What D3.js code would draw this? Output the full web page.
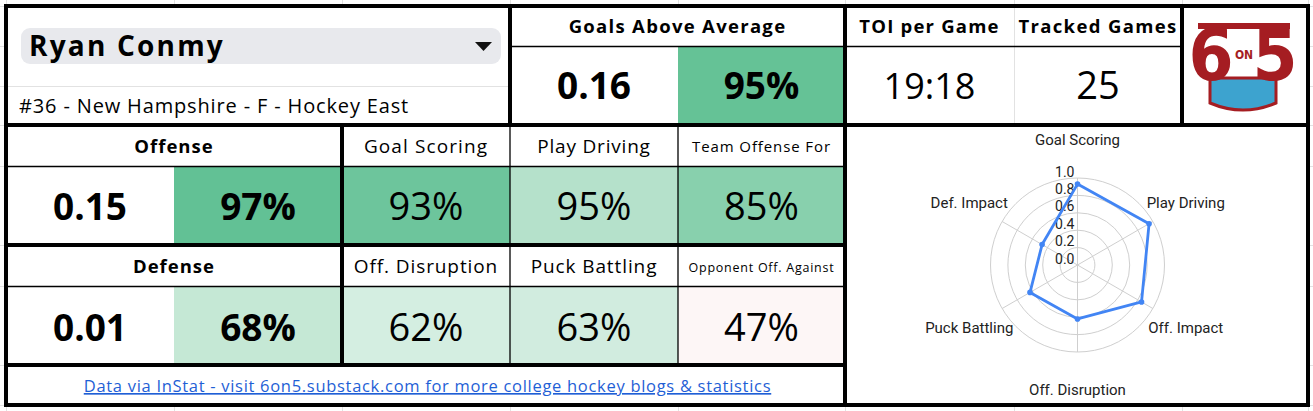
<!DOCTYPE html>
<html>
<head>
<meta charset="utf-8">
<script src="https://cdn.jsdelivr.net/npm/d3@7"></script>
<style>
  html, body { margin: 0; padding: 0; background: #fff; }
  svg { display: block; }
  .sheet { font-family: 'Open Sans', 'Noto Sans', sans-serif; fill: #000; }
  .radar text { font-family: Roboto, sans-serif; }
</style>
</head>
<body>
<div id="card"></div>
<script>
// ---- data ----
const PLAYER = 'Ryan Conmy';
const PLAYER_INFO = '#36 - New Hampshire - F - Hockey East';
const GAA = { label: 'Goals Above Average', value: '0.16', pct: 95 };
const TOI = { label: 'TOI per Game', value: '19:18' };
const GAMES = { label: 'Tracked Games', value: '25' };

const GROUPS = ['Offense', 'Defense'];
const GROUP_VALUES = ['0.15', '0.01'];
const GROUP_PCT = [97, 68];

const OFF_METRICS = ['Goal Scoring', 'Play Driving', 'Team Offense For'];
const OFF_PCT = [93, 95, 85];
const DEF_METRICS = ['Off. Disruption', 'Puck Battling', 'Opponent Off. Against'];
const DEF_PCT = [62, 63, 47];

const RADAR_AXES = ['Goal Scoring', 'Play Driving', 'Off. Impact', 'Off. Disruption', 'Puck Battling', 'Def. Impact'];
const RADAR_VALUES = [0.93, 0.95, 0.85, 0.62, 0.63, 0.47];
const RADAR_TICKS = [0, 0.2, 0.4, 0.6, 0.8, 1.0];

const FOOTER = 'Data via InStat - visit 6on5.substack.com for more college hockey blogs & statistics';

// ---- styles (cell fills as shown on the sheet) ----
const GAA_FILL = '#65c296';
const GROUP_FILL = ['#62c195', '#c5e8d5'];
const OFF_FILL = ['#6dc59c', '#b5e1cb', '#88d0ad'];
const DEF_FILL = ['#d4eee1', '#d1ecdf', '#fdf6f6'];
const OFF_HEAD = [[19, 1.1], [19, 0.8], [15, 0.9]];   // [font-size, letter-spacing]
const DEF_HEAD = [[19, 0.9], [19, 0.9], [12.5, 0.75]];

const W = 1313, H = 411;
const svg = d3.select('#card').append('svg').attr('width', W).attr('height', H).attr('class', 'sheet');

// grid geometry (sheet columns / rows)
const X = [6, 174, 342, 510, 678, 845, 1014, 1182, 1308];
const Y = [6, 46, 86, 125, 166, 245, 286, 365, 405];

// faint spreadsheet gridlines
const grid = svg.append('g').attr('stroke', '#e2e2e2').attr('stroke-width', 1);
grid.selectAll('line.gx').data(X).join('line')
  .attr('x1', d => d + 0.5).attr('x2', d => d + 0.5).attr('y1', 0).attr('y2', H);
grid.selectAll('line.gy').data(Y).join('line')
  .attr('y1', d => d + 0.5).attr('y2', d => d + 0.5).attr('x1', 0).attr('x2', W);

function cell(x0, y0, x1, y1, fill) {
  svg.append('rect').attr('x', x0).attr('y', y0).attr('width', x1 - x0).attr('height', y1 - y0).attr('fill', fill || '#fff');
}
function txt(x, y, s, size, weight, anchor, ls) {
  return svg.append('text').attr('x', x).attr('y', y).attr('font-size', size)
    .attr('font-weight', weight || 400).attr('text-anchor', anchor || 'middle')
    .attr('letter-spacing', ls || 0).text(s);
}

// cell backgrounds
cell(X[0], Y[0], X[3], Y[3]);
cell(X[3], Y[0], X[5], Y[3]);
cell(X[4], Y[1], X[5], Y[3], GAA_FILL);
cell(X[5], Y[0], X[8], Y[3]);
cell(X[0], Y[3], X[5], Y[8]);
cell(X[1], Y[4], X[2], Y[5], GROUP_FILL[0]);
cell(X[1], Y[6], X[2], Y[7], GROUP_FILL[1]);
OFF_FILL.forEach((f, i) => cell(X[2 + i], Y[4], X[3 + i], Y[5], f));
DEF_FILL.forEach((f, i) => cell(X[2 + i], Y[6], X[3 + i], Y[7], f));
cell(X[5], Y[3], X[8], Y[8]);

// light inner lines
svg.append('line').attr('x1', X[0]).attr('x2', X[3]).attr('y1', Y[2] + 0.5).attr('y2', Y[2] + 0.5).attr('stroke', '#e2e2e2');
svg.append('line').attr('x1', X[6] + 0.5).attr('x2', X[6] + 0.5).attr('y1', Y[0]).attr('y2', Y[3]).attr('stroke', '#e2e2e2');

// name dropdown
svg.append('rect').attr('x', 21).attr('y', 28).attr('width', 480).attr('height', 36).attr('rx', 9).attr('fill', '#e8e9ed');
txt(29, 56, PLAYER, 28, 700, 'start', 2.2);
svg.append('path').attr('d', 'M475,42 L492,42 L483.5,51 Z').attr('fill', '#111');
txt(19, 113, PLAYER_INFO, 20, 400, 'start', 0.85);

// top stats
txt((X[3] + X[5]) / 2, 33, GAA.label, 18.5, 700, 'middle', 1.3);
txt((X[3] + X[4]) / 2, 99, GAA.value, 37, 700);
txt((X[4] + X[5]) / 2, 99, GAA.pct + '%', 37, 700);
txt((X[5] + X[6]) / 2, 33, TOI.label, 18.5, 700, 'middle', 1.2);
txt((X[5] + X[6]) / 2, 99, TOI.value, 36, 400);
txt((X[6] + X[7]) / 2, 33, GAMES.label, 18.5, 700, 'middle', 1.35);
txt((X[6] + X[7]) / 2, 99, GAMES.value, 38, 400);

// offense / defense blocks
GROUPS.forEach((g, i) => {
  const head = i === 0 ? 153 : 273, val = i === 0 ? 220 : 341;
  txt((X[0] + X[2]) / 2, head, g, 18.5, 700, 'middle', 1);
  txt((X[0] + X[1]) / 2, val, GROUP_VALUES[i], 37, 700);
  txt((X[1] + X[2]) / 2, val, GROUP_PCT[i] + '%', 37, 700);
  const names = i === 0 ? OFF_METRICS : DEF_METRICS;
  const pcts = i === 0 ? OFF_PCT : DEF_PCT;
  const heads = i === 0 ? OFF_HEAD : DEF_HEAD;
  names.forEach((n, j) => {
    const cx = (X[2 + j] + X[3 + j]) / 2;
    txt(cx, head - (heads[j][0] < 16 ? 1 : 0), n, heads[j][0], 400, 'middle', heads[j][1]);
    txt(cx, val, pcts[j] + '%', 38, 400);
  });
});

// footer link
txt((X[0] + X[5]) / 2 + 2, 392, FOOTER, 16.5, 400, 'middle', 0.7).attr('fill', '#1f5fd6').attr('text-decoration', 'underline');

// thin black lines
const thin = [
  [X[3], Y[1], X[7], Y[1]],
  [X[0], Y[4], X[5], Y[4]],
  [X[0], Y[6], X[5], Y[6]],
  [X[3], Y[3], X[3], Y[7]],
  [X[4], Y[3], X[4], Y[7]]
];
svg.append('g').attr('stroke', '#000').attr('stroke-width', 1.3).selectAll('line').data(thin).join('line')
  .attr('x1', d => d[0]).attr('y1', d => d[1] + 0.5).attr('x2', d => d[2]).attr('y2', d => d[3] + 0.5);

// thick borders
const thick = [
  [X[0], Y[0], X[8], Y[0]],
  [X[0], Y[8], X[8], Y[8]],
  [X[0], Y[0], X[0], Y[8]],
  [X[8], Y[0], X[8], Y[8]],
  [X[0], Y[3], X[8], Y[3]],
  [X[0], Y[5], X[5], Y[5]],
  [X[0], Y[7], X[5], Y[7]],
  [X[3], Y[0], X[3], Y[3]],
  [X[5], Y[0], X[5], Y[8]],
  [X[7], Y[0], X[7], Y[3]],
  [X[2], Y[3], X[2], Y[7]]
];
svg.append('g').attr('stroke', '#000').attr('stroke-width', 4).attr('stroke-linecap', 'square').selectAll('line').data(thick).join('line')
  .attr('x1', d => d[0]).attr('y1', d => d[1]).attr('x2', d => d[2]).attr('y2', d => d[3]);

// logo
const logo = svg.append('g').attr('class', 'logo');
const red = '#a51d22';
logo.append('path').attr('d', 'M1210,78 L1210,103 Q1243,117 1276,103 L1276,78 Z')
  .attr('fill', '#3da3cf').attr('stroke', red).attr('stroke-width', 3);
logo.append('rect').attr('x', 1198).attr('y', 23).attr('width', 92).attr('height', 6).attr('fill', red);
logo.append('text').attr('x', 1211).attr('y', 80).attr('text-anchor', 'middle').attr('font-family', 'DejaVu Sans Condensed, DejaVu Sans')
  .attr('font-weight', 700).attr('font-size', 72).attr('fill', red).text('6');
logo.append('text').attr('x', 1275).attr('y', 80).attr('text-anchor', 'middle').attr('font-family', 'DejaVu Sans Condensed, DejaVu Sans')
  .attr('font-weight', 700).attr('font-size', 72).attr('fill', red).text('5');
logo.append('text').attr('x', 1244).attr('y', 59).attr('text-anchor', 'middle').attr('font-family', 'DejaVu Sans Condensed, DejaVu Sans')
  .attr('font-weight', 700).attr('font-size', 12).attr('fill', red).text('ON');

// radar
const cx = 1077.5, cy = 265, R = 87;
const r = d3.scaleLinear().domain([0, 1]).range([0, R]);
const ang = d3.scaleLinear().domain([0, RADAR_AXES.length]).range([0, 2 * Math.PI]);
const pt = (i, v) => [cx + r(v) * Math.sin(ang(i)), cy - r(v) * Math.cos(ang(i))];
const rad = svg.append('g').attr('class', 'radar');
rad.selectAll('circle.ring').data(RADAR_TICKS.filter(t => t > 0)).join('circle')
  .attr('cx', cx).attr('cy', cy).attr('r', d => r(d)).attr('fill', 'none').attr('stroke', '#cfcfcf');
rad.selectAll('line.spoke').data(RADAR_AXES).join('line')
  .attr('x1', cx).attr('y1', cy).attr('x2', (d, i) => pt(i, 1)[0]).attr('y2', (d, i) => pt(i, 1)[1]).attr('stroke', '#cfcfcf');
rad.selectAll('text.tick').data(RADAR_TICKS).join('text')
  .attr('x', cx - 3).attr('y', d => cy - r(d) - 1.5).attr('text-anchor', 'end')
  .attr('font-size', 14).attr('fill', '#222').text(d => d.toFixed(1));
const line = d3.line().curve(d3.curveLinearClosed);
rad.append('path').attr('d', line(RADAR_VALUES.map((v, i) => pt(i, v))))
  .attr('fill', 'none').attr('stroke', '#4285f4').attr('stroke-width', 2.8).attr('stroke-linejoin', 'round');
rad.selectAll('circle.dot').data(RADAR_VALUES).join('circle')
  .attr('cx', (d, i) => pt(i, d)[0]).attr('cy', (d, i) => pt(i, d)[1]).attr('r', 2.8).attr('fill', '#4285f4');
rad.selectAll('text.axis').data(RADAR_AXES).join('text')
  .attr('x', (d, i) => cx + 125 * Math.sin(ang(i))).attr('y', (d, i) => cy - 125 * Math.cos(ang(i)))
  .attr('dy', '0.35em').attr('text-anchor', 'middle').attr('font-size', 15).attr('fill', '#222').text(d => d);
</script>
</body>
</html>
